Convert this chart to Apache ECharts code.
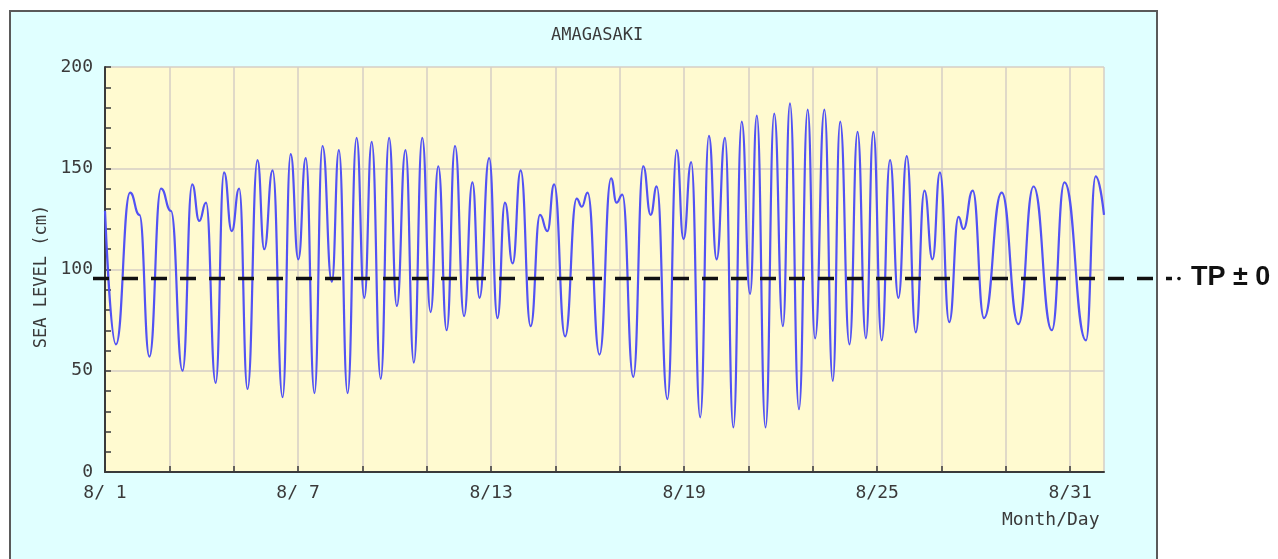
<!DOCTYPE html>
<html>
<head>
<meta charset="utf-8">
<script src="https://cdn.jsdelivr.net/npm/echarts@6/dist/echarts.min.js"></script>
<style>
html,body{margin:0;padding:0;background:#ffffff;width:1278px;height:559px;overflow:hidden;}
#panel{position:absolute;left:9px;top:10px;width:1149px;height:560px;background:#e0ffff;border:2px solid #5a5a5a;box-sizing:border-box;}
#chart{position:absolute;left:0;top:0;width:1278px;height:559px;}
</style>
</head>
<body>
<div id="panel"></div>
<div id="chart"></div>
<script>
// ---- data (time in days since 8/1 00:00, sea level in cm) ----
const days = [
  0.00,0.34,0.78,1.07,1.38,1.74,2.05,2.41,2.71,2.93,3.14,3.44,3.70,3.94,4.17,4.43,
  4.74,4.95,5.21,5.52,5.77,6.01,6.24,6.51,6.76,7.05,7.27,7.54,7.82,8.06,8.29,8.57,
  8.83,9.07,9.34,9.60,9.86,10.12,10.36,10.62,10.88,11.16,11.42,11.64,11.94,12.20,12.43,12.67,
  12.92,13.23,13.52,13.75,13.96,14.30,14.66,14.82,15.00,15.37,15.73,15.90,16.08,16.42,16.73,16.96,
  17.15,17.48,17.77,17.98,18.22,18.50,18.77,19.01,19.27,19.53,19.79,20.05,20.26,20.53,20.80,21.07,
  21.29,21.57,21.84,22.07,22.36,22.62,22.85,23.14,23.39,23.65,23.88,24.14,24.40,24.66,24.92,25.20,
  25.47,25.72,25.95,26.24,26.53,26.68,26.97,27.32,27.87,28.39,28.86,29.43,29.82,30.49,30.79,31.05
];
const level = [
  129,63,138,127,57,140,129,50,142,124,133,44,148,119,140,41,
  154,110,149,37,157,105,155,39,161,94,159,39,165,86,163,46,
  165,82,159,54,165,79,151,70,161,77,143,86,155,76,133,103,
  149,72,127,119,142,67,135,131,138,58,145,133,137,47,151,127,
  141,36,159,115,153,27,166,105,165,22,173,88,176,22,177,72,
  182,31,179,66,179,45,173,63,168,66,168,65,154,86,156,69,
  139,105,148,74,126,120,139,76,138,73,141,70,143,65,146,127
];
const tpLevel = 95.5;
const xTickLabels = ['8/ 1','8/ 7','8/13','8/19','8/25','8/31'];
const titleText = 'AMAGASAKI';
const yName = 'SEA LEVEL (cm)';
const xName = 'Month/Day';
const tpText = 'TP \u00B1 0';

const FONT = '"DejaVu Sans Mono", "Liberation Mono", monospace';
const chart = echarts.init(document.getElementById('chart'), null, {renderer:'canvas'});
const seriesData = days.map((d, i) => [d, level[i]]);

chart.setOption({
  backgroundColor: 'transparent',
  animation: false,
  grid: {left:105, top:67, width:999, height:405, show:true, backgroundColor:'#fffad0', borderWidth:0},
  xAxis: {
    type:'value', min:0, max:31.05, interval:2,
    axisLine:{show:true, onZero:false, lineStyle:{color:'#3a3a3a', width:2}},
    axisTick:{show:true, inside:true, length:6, lineStyle:{color:'#3a3a3a', width:1.5}},
    splitLine:{show:true, lineStyle:{color:'#d6cec6', width:1.5}},
    axisLabel:{
      color:'#3a3a3a', fontFamily:FONT, fontSize:18, margin:12, showMaxLabel:false,
      formatter: v => (Math.abs(v % 6) < 1e-6 ? (xTickLabels[Math.round(v/6)] || '') : '')
    }
  },
  yAxis: {
    type:'value', min:0, max:200, interval:50,
    name: yName, nameLocation:'middle', nameGap:41, nameRotate:90,
    nameTextStyle:{color:'#3a3a3a', fontFamily:FONT, fontSize:17, padding:[0,0,0,-14]},
    axisLine:{show:true, lineStyle:{color:'#3a3a3a', width:2}},
    axisTick:{show:true, inside:true, length:6, lineStyle:{color:'#3a3a3a', width:1.5}},
    minorTick:{show:true, splitNumber:5, length:6, lineStyle:{color:'#3a3a3a', width:1.5}},
    splitLine:{show:true, lineStyle:{color:'#d6cec6', width:1.5}},
    axisLabel:{color:'#3a3a3a', fontFamily:FONT, fontSize:18, margin:12}
  },
  series: [{
    type:'line', data: seriesData, showSymbol:false, smooth:0.5, smoothMonotone:'x',
    lineStyle:{color:'#5252f4', width:2.2}, z:3
  }]
});

const yTP = chart.convertToPixel({yAxisIndex:0}, tpLevel);
chart.setOption({
  graphic: [
    {type:'text', left:551, top:27, style:{text:titleText, font:'17px ' + FONT, fill:'#3a3a3a'}},
    {type:'text', left:1002, top:511, style:{text:xName, font:'18px ' + FONT, fill:'#3a3a3a'}},
    {type:'line', z:10, shape:{x1:93, y1:yTP, x2:1172, y2:yTP},
      style:{stroke:'#111111', lineWidth:3.5, lineDash:[16,13]}},
    {type:'circle', z:10, shape:{cx:1179, cy:yTP, r:1.8}, style:{fill:'#111111'}},
    {type:'text', z:10, left:1191, top:yTP - 15, style:{text:tpText, font:'bold 27px "Liberation Sans", Arial, sans-serif', fill:'#111111'}}
  ]
});
</script>
</body>
</html>
